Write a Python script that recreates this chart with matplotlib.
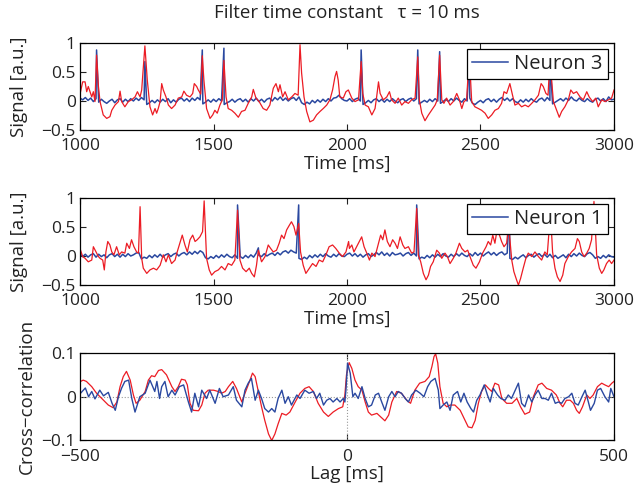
import numpy as np
import matplotlib
matplotlib.use("Agg")
import matplotlib.pyplot as plt

plt.rcParams['font.family'] = ['Open Sans', 'DejaVu Sans']

RED = '#ec1c24'
BLUE = '#2a48a0'

# ---- top panel: Neuron 3 (filtered red trace, (time ms, signal)) ----
red_top = [
    (1002, 0.16), (1010, 0.33), (1019, 0.33), (1025, 0.16), (1031, 0.25), (1044, 0.07),
    (1050, 0.16), (1056, -0.01), (1062, 0.79), (1069, 0.25), (1075, -0.01), (1087, -0.24),
    (1100, -0.30), (1112, -0.27), (1119, -0.16), (1131, -0.07), (1144, -0.01), (1150, 0.17),
    (1156, -0.01), (1168, -0.10), (1181, -0.01), (1193, 0.02), (1206, 0.07), (1215, 0.16),
    (1225, 0.07), (1231, 0.19), (1243, 0.95), (1252, 0.36), (1262, -0.10), (1272, -0.24),
    (1281, -0.13), (1287, -0.21), (1293, -0.13), (1300, -0.01), (1306, 0.30), (1312, 0.19),
    (1322, 0.07), (1331, -0.07), (1343, -0.13), (1356, -0.07), (1368, 0.05), (1381, 0.07),
    (1389, 0.17), (1399, 0.10), (1412, 0.07), (1422, 0.13), (1428, 0.30), (1437, 0.25),
    (1443, 0.19), (1452, 0.12), (1458, 0.78), (1464, 0.36), (1474, -0.13), (1487, -0.30),
    (1497, -0.24), (1505, -0.16), (1514, -0.21), (1524, -0.07), (1533, 0.02), (1539, 0.70),
    (1547, 0.07), (1555, -0.13), (1568, -0.16), (1580, -0.21), (1593, -0.28), (1605, -0.18),
    (1618, -0.16), (1630, -0.04), (1643, 0.07), (1649, 0.20), (1659, 0.05), (1671, -0.01),
    (1686, -0.13), (1699, -0.16), (1711, -0.07), (1724, 0.22), (1734, 0.30), (1743, 0.16),
    (1749, 0.28), (1759, 0.07), (1768, 0.16), (1780, 0.02), (1793, 0.07), (1805, 0.13),
    (1817, 0.10), (1824, 0.97), (1830, 0.48), (1839, 0.07), (1849, -0.18), (1861, -0.36),
    (1874, -0.33), (1886, -0.24), (1899, -0.18), (1911, -0.13), (1924, -0.07), (1936, 0.02),
    (1946, 0.19), (1955, 0.42), (1961, 0.51), (1967, 0.36), (1973, 0.07), (1986, 0.05),
    (1996, 0.16), (2005, 0.19), (2018, 0.05), (2030, -0.01), (2043, 0.02), (2053, 0.68),
    (2059, 0.13), (2068, -0.07), (2080, -0.10), (2093, -0.24), (2105, -0.13), (2111, 0.07),
    (2118, 0.33), (2124, 0.13), (2136, 0.02), (2149, 0.07), (2159, 0.16), (2167, 0.02),
    (2180, -0.04), (2192, 0.05), (2205, -0.07), (2217, -0.01), (2230, -0.04), (2242, 0.02),
    (2255, 0.05), (2265, 0.76), (2271, 0.02), (2280, -0.21), (2292, -0.34), (2305, -0.24),
    (2317, -0.16), (2330, -0.07), (2338, 0.02), (2347, 0.79), (2355, 0.02), (2363, -0.04),
    (2373, 0.05), (2386, -0.07), (2398, -0.01), (2411, 0.13), (2421, 0.02), (2430, -0.13),
    (2438, -0.01), (2448, 0.02), (2458, 0.80), (2467, -0.01), (2479, -0.10), (2492, -0.13),
    (2504, -0.16), (2517, -0.21), (2529, -0.30), (2542, -0.24), (2554, -0.16), (2567, -0.13),
    (2579, -0.04), (2588, 0.16), (2598, 0.13), (2610, 0.30), (2620, 0.10), (2629, -0.07),
    (2642, -0.04), (2654, -0.10), (2667, -0.07), (2679, -0.10), (2692, -0.04), (2704, 0.02),
    (2717, 0.10), (2727, 0.30), (2735, 0.25), (2745, 0.13), (2753, 0.10), (2760, 0.72),
    (2773, -0.01), (2785, -0.16), (2795, -0.28), (2804, -0.18), (2816, -0.10), (2829, 0.02),
    (2838, 0.19), (2848, 0.13), (2860, 0.16), (2873, 0.07), (2885, 0.02), (2898, 0.16),
    (2907, 0.07), (2920, -0.01), (2932, 0.05), (2941, -0.10), (2954, 0.02), (2966, -0.01),
    (2979, 0.02), (2991, 0.05), (3000, 0.19),
]

# blue trace sampled every 10 ms from 1000 to 3000 ms
blue_top_base = [
    0.05, 0.02, 0.06, 0.01, 0.05, -0.01, 0.04, -0.02, 0.03, -0.01,
    -0.04, 0.00, 0.03, -0.03, 0.02, 0.04, -0.02, 0.03, -0.01, 0.04,
    0.00, 0.05, 0.01, 0.06, 0.02, -0.06, -0.03, 0.01, -0.03, 0.02,
    -0.02, 0.03, -0.01, 0.04, -0.03, 0.02, -0.02, 0.03, 0.05, 0.00,
    0.04, -0.01, 0.05, 0.01, 0.06, 0.02, -0.05, -0.02, 0.02, -0.02,
    0.03, -0.01, 0.04, 0.00, -0.06, -0.03, -0.01, 0.03, -0.02, 0.02,
    0.04, -0.01, 0.03, -0.02, 0.04, 0.00, 0.05, -0.01, 0.03, -0.02,
    0.03, 0.05, 0.00, 0.06, 0.02, 0.07, 0.01, 0.05, 0.00, 0.04,
    0.06, 0.01, 0.07, -0.03, -0.06, -0.02, -0.05, 0.01, -0.03, 0.02,
    -0.02, 0.03, -0.01, 0.04, 0.00, 0.05, 0.06, 0.10, 0.04, 0.01,
    0.00, 0.04, -0.01, 0.03, 0.05, 0.00, -0.06, -0.03, 0.01, -0.03,
    0.02, 0.04, -0.01, 0.03, -0.02, 0.03, -0.01, 0.04, 0.00, -0.03,
    0.02, 0.04, -0.01, 0.03, 0.05, 0.00, 0.04, -0.05, -0.02, 0.01,
    -0.02, 0.03, -0.01, 0.04, 0.00, -0.04, -0.01, 0.03, -0.01, 0.04,
    0.00, 0.05, 0.01, -0.02, 0.04, 0.00, 0.05, -0.04, -0.06, -0.02,
    0.01, -0.03, 0.02, 0.04, -0.01, 0.03, -0.02, 0.03, 0.06, 0.01,
    0.05, 0.00, 0.04, -0.01, -0.03, 0.02, -0.02, 0.03, -0.01, 0.04,
    0.00, -0.02, 0.03, 0.05, 0.00, 0.06, 0.01, -0.05, -0.02, 0.01,
    0.04, 0.00, 0.05, 0.01, 0.07, 0.02, 0.00, 0.05, 0.01, -0.01,
    0.04, 0.00, -0.02, 0.03, 0.05, 0.00, 0.04, -0.01, 0.07, 0.02,
    0.03,
]
blue_top_spikes = [(1062, 0.88), (1243, 0.68), (1458, 0.88), (1539, 0.91), (2053, 0.88),
                   (2265, 0.88), (2347, 0.85), (2458, 0.80), (2760, 0.75)]

# ---- middle panel: Neuron 1 ----
red_mid = [
    (1002, 0.10), (1010, -0.01), (1019, -0.04), (1031, -0.10), (1044, -0.07), (1050, 0.16),
    (1060, 0.07), (1069, -0.01), (1075, -0.04), (1085, -0.07), (1091, -0.24), (1097, 0.07),
    (1104, 0.25), (1112, 0.19), (1119, 0.07), (1127, 0.02), (1137, 0.16), (1147, 0.02),
    (1156, 0.07), (1168, 0.05), (1175, 0.22), (1185, 0.13), (1193, 0.28), (1202, 0.16),
    (1212, 0.07), (1219, 0.05), (1225, 0.85), (1231, -0.04), (1237, -0.21), (1250, -0.30),
    (1262, -0.24), (1275, -0.21), (1287, -0.24), (1300, -0.16), (1312, 0.02), (1322, -0.10),
    (1331, 0.02), (1343, -0.13), (1356, -0.07), (1364, 0.07), (1374, 0.22), (1383, 0.36),
    (1393, 0.19), (1402, 0.07), (1412, 0.28), (1422, 0.36), (1431, 0.25), (1439, 0.28),
    (1449, 0.33), (1459, 0.42), (1465, 0.95), (1474, -0.04), (1484, -0.24), (1493, -0.33),
    (1505, -0.27), (1518, -0.24), (1530, -0.18), (1543, -0.24), (1555, -0.13), (1568, -0.16),
    (1580, -0.07), (1590, 0.79), (1599, -0.07), (1609, -0.21), (1622, -0.27), (1634, -0.21),
    (1643, -0.30), (1653, -0.36), (1661, -0.16), (1668, 0.10), (1680, -0.10), (1693, -0.01),
    (1705, 0.19), (1714, 0.13), (1724, 0.07), (1736, 0.10), (1746, 0.22), (1755, 0.36),
    (1764, 0.30), (1774, 0.45), (1784, 0.53), (1792, 0.59), (1801, 0.51), (1809, 0.36),
    (1819, 0.56), (1826, 0.07), (1836, -0.16), (1846, -0.30), (1859, -0.21), (1871, -0.13),
    (1884, -0.18), (1896, -0.07), (1909, -0.10), (1921, 0.02), (1933, 0.16), (1946, 0.19),
    (1958, 0.13), (1971, 0.05), (1983, -0.01), (1996, 0.07), (2006, 0.25), (2009, 0.13),
    (2018, 0.19), (2026, 0.07), (2036, 0.16), (2046, 0.25), (2055, 0.33), (2064, 0.16),
    (2074, 0.05), (2084, -0.07), (2093, 0.05), (2105, -0.01), (2118, 0.22), (2126, 0.36),
    (2134, 0.28), (2142, 0.45), (2151, 0.25), (2161, 0.16), (2171, 0.28), (2180, 0.22),
    (2189, 0.13), (2199, 0.33), (2209, 0.19), (2217, 0.13), (2230, 0.16), (2242, 0.05),
    (2251, 0.07), (2261, 0.82), (2267, 0.02), (2276, -0.10), (2286, -0.30), (2296, -0.41),
    (2305, -0.33), (2313, -0.18), (2323, -0.10), (2336, 0.10), (2346, 0.05), (2355, -0.04),
    (2367, 0.05), (2376, -0.01), (2386, -0.13), (2398, -0.04), (2408, 0.05), (2421, 0.22),
    (2430, 0.13), (2442, 0.07), (2452, 0.10), (2463, -0.04), (2473, -0.16), (2483, -0.21),
    (2496, -0.10), (2508, 0.05), (2521, 0.16), (2529, 0.25), (2538, 0.19), (2546, 0.36),
    (2554, 0.22), (2563, 0.48), (2571, 0.36), (2579, 0.25), (2588, 0.16), (2598, 0.22),
    (2605, 0.55), (2617, -0.07), (2625, -0.27), (2635, -0.41), (2642, -0.50), (2650, -0.39),
    (2660, -0.21), (2670, -0.04), (2679, 0.05), (2692, -0.01), (2704, 0.07), (2717, -0.01),
    (2729, -0.07), (2741, 0.07), (2750, 0.02), (2762, 0.75), (2770, 0.07), (2779, -0.21),
    (2788, -0.36), (2798, -0.44), (2808, -0.33), (2816, -0.13), (2829, -0.01), (2841, 0.07),
    (2854, 0.13), (2863, 0.30), (2870, 0.25), (2879, 0.07), (2888, -0.01), (2898, 0.05),
    (2907, 0.13), (2916, 0.28), (2925, 0.94), (2935, 0.02), (2945, -0.21), (2954, -0.30),
    (2962, -0.24), (2972, -0.13), (2982, -0.07), (2991, -0.13), (3000, -0.07),
]

blue_mid_base = [
    0.04, -0.01, 0.03, -0.02, 0.02, 0.04, -0.02, 0.03, -0.01, 0.02,
    -0.03, 0.02, 0.04, -0.01, 0.03, -0.02, 0.03, -0.01, 0.04, 0.00,
    0.02, 0.05, 0.06, -0.05, -0.02, -0.04, 0.01, -0.03, 0.02, -0.02,
    0.03, -0.02, 0.02, 0.04, -0.01, 0.03, 0.05, 0.00, 0.04, 0.06,
    0.02, 0.07, 0.03, 0.08, 0.04, 0.09, 0.06, -0.03, -0.05, -0.01,
    -0.04, 0.01, -0.03, 0.02, -0.02, 0.03, -0.01, -0.03, 0.02, -0.04,
    -0.01, -0.04, 0.01, -0.03, 0.02, -0.02, 0.05, 0.01, -0.01, 0.04,
    0.00, 0.03, 0.05, 0.01, 0.06, 0.02, 0.07, 0.09, 0.05, 0.10,
    0.07, 0.05, -0.04, -0.06, -0.02, -0.05, 0.01, -0.03, 0.02, -0.02,
    0.03, -0.01, 0.04, 0.00, -0.02, 0.03, -0.01, 0.04, 0.00, -0.01,
    0.03, 0.05, 0.00, 0.04, -0.01, 0.03, -0.02, 0.02, 0.04, -0.01,
    0.02, 0.06, 0.02, 0.07, 0.01, 0.05, 0.00, 0.06, 0.02, 0.03,
    0.05, 0.00, 0.04, 0.06, 0.01, 0.05, 0.00, -0.05, -0.02, -0.04,
    0.01, -0.03, 0.02, -0.02, 0.03, -0.01, 0.04, 0.00, -0.02, 0.03,
    -0.01, 0.04, 0.00, 0.05, 0.01, -0.01, 0.04, 0.00, 0.06, 0.01,
    0.05, 0.00, 0.04, 0.07, 0.02, 0.06, 0.01, 0.05, 0.07, 0.02,
    0.05, -0.04, -0.06, -0.02, -0.05, -0.01, 0.02, -0.03, 0.01, 0.03,
    -0.02, 0.02, 0.04, -0.01, 0.03, -0.02, 0.03, -0.03, 0.01, -0.04,
    -0.01, 0.02, -0.03, 0.03, -0.01, 0.04, 0.00, 0.05, 0.01, -0.01,
    0.04, 0.06, 0.02, -0.04, -0.01, -0.04, 0.01, -0.03, 0.02, -0.01,
    -0.02,
]
blue_mid_spikes = [(1590, 0.88), (1668, 0.14), (1819, 0.88), (2261, 0.88), (2608, 0.85)]

# ---- bottom panel: cross-correlation (lag ms, value) ----
cc_red = [
    (-499, 0.035), (-494, 0.038), (-488, 0.035), (-478, 0.023), (-469, 0.008), (-456, -0.008),
    (-447, -0.019), (-438, -0.025), (-431, -0.012), (-425, 0.023), (-419, 0.046), (-413, 0.058),
    (-406, 0.038), (-400, 0.004), (-395, -0.015), (-388, -0.008), (-378, 0.012), (-372, 0.038),
    (-366, 0.048), (-360, 0.046), (-353, 0.060), (-347, 0.062), (-338, 0.050), (-328, 0.023),
    (-322, 0.012), (-316, 0.023), (-310, 0.040), (-303, 0.038), (-299, 0.027), (-294, -0.015),
    (-288, -0.031), (-278, -0.032), (-272, -0.019), (-266, 0.008), (-260, 0.015), (-250, 0.015),
    (-241, 0.012), (-235, 0.008), (-228, 0.012), (-222, 0.023), (-214, 0.035), (-207, 0.019),
    (-197, -0.012), (-191, 0.008), (-185, 0.027), (-177, 0.054), (-172, 0.046), (-166, 0.012),
    (-160, -0.023), (-154, -0.054), (-147, -0.085), (-141, -0.100), (-135, -0.085), (-129, -0.062),
    (-122, -0.038), (-114, -0.042), (-107, -0.035), (-97, -0.012), (-88, 0.008), (-79, 0.019),
    (-71, 0.023), (-63, 0.012), (-54, -0.015), (-44, -0.035), (-35, -0.045), (-26, -0.035),
    (-16, -0.027), (-8, -0.023), (-4, 0.004), (-1, 0.050), (4, 0.078), (9, 0.065),
    (15, 0.038), (21, 0.023), (28, 0.015), (34, -0.012), (40, -0.035), (46, -0.042),
    (56, -0.038), (63, -0.046), (71, -0.055), (78, -0.042), (84, -0.012), (93, 0.012),
    (102, 0.008), (112, -0.008), (119, -0.015), (127, 0.015), (136, 0.031), (146, 0.035),
    (154, 0.046), (159, 0.069), (163, 0.092), (166, 0.098), (170, 0.077), (174, 0.023),
    (180, -0.015), (187, -0.023), (193, -0.019), (202, -0.019), (212, -0.031), (221, -0.054),
    (227, -0.069), (234, -0.071), (240, -0.054), (246, -0.015), (252, 0.012), (259, 0.027),
    (265, 0.019), (271, 0.012), (277, 0.031), (284, 0.027), (290, -0.004), (299, -0.015),
    (309, -0.015), (318, -0.004), (325, -0.023), (333, -0.040), (342, -0.035), (349, 0.000),
    (358, 0.027), (365, 0.031), (374, 0.019), (383, 0.015), (392, 0.004), (399, -0.015),
    (404, -0.023), (411, -0.008), (418, -0.008), (424, -0.015), (430, -0.031), (435, -0.038),
    (441, -0.023), (449, 0.004), (455, -0.004), (461, 0.004), (469, 0.023), (477, 0.031),
    (483, 0.027), (490, 0.023), (496, 0.031), (500, 0.035),
]

cc_blue = [
    (-499, 0.008), (-490, 0.020), (-484, 0.000), (-478, 0.012), (-472, -0.005), (-463, 0.015),
    (-456, 0.002), (-447, 0.010), (-440, -0.015), (-434, -0.031), (-428, 0.000), (-422, 0.020),
    (-416, 0.035), (-409, 0.038), (-403, -0.004), (-397, -0.035), (-388, 0.000), (-378, 0.008),
    (-369, 0.038), (-360, 0.012), (-356, 0.035), (-351, -0.004), (-347, 0.023), (-341, 0.035),
    (-335, 0.000), (-328, 0.015), (-322, 0.004), (-314, 0.023), (-306, 0.027), (-297, -0.012),
    (-291, -0.035), (-285, 0.008), (-278, -0.023), (-272, 0.015), (-263, -0.004), (-257, 0.015),
    (-247, -0.015), (-239, 0.019), (-232, 0.000), (-222, 0.004), (-213, 0.023), (-207, -0.008),
    (-197, -0.023), (-191, 0.015), (-185, 0.031), (-179, 0.042), (-172, -0.008), (-166, 0.015),
    (-160, -0.004), (-154, -0.027), (-147, -0.035), (-141, -0.027), (-135, -0.035), (-129, -0.004),
    (-122, 0.015), (-116, -0.015), (-110, 0.000), (-104, -0.019), (-94, 0.004), (-88, -0.004),
    (-79, 0.015), (-71, 0.008), (-63, 0.012), (-57, -0.004), (-51, 0.008), (-44, -0.019),
    (-38, -0.008), (-32, -0.004), (-26, -0.012), (-19, -0.004), (-13, -0.012), (-7, -0.004),
    (-4, -0.012), (-2, 0.015), (1, 0.077), (6, 0.054), (11, 0.000), (15, 0.008),
    (21, -0.004), (28, 0.023), (34, -0.004), (40, -0.023), (46, -0.019), (53, 0.004),
    (59, 0.008), (65, -0.012), (71, -0.031), (78, 0.000), (84, 0.012), (90, 0.000),
    (96, 0.012), (102, 0.008), (109, -0.004), (115, -0.012), (121, 0.004), (129, 0.015),
    (137, 0.008), (144, 0.000), (151, 0.023), (157, 0.035), (165, 0.042), (171, 0.015),
    (174, -0.027), (180, -0.019), (187, -0.012), (193, -0.031), (199, 0.004), (207, 0.012),
    (213, -0.012), (219, 0.008), (225, -0.012), (232, -0.027), (237, -0.035), (243, -0.008),
    (249, 0.004), (257, 0.027), (263, 0.004), (268, -0.012), (274, 0.019), (282, 0.004),
    (288, -0.004), (296, -0.008), (302, 0.004), (308, -0.004), (315, 0.015), (321, 0.031),
    (327, -0.015), (333, -0.023), (340, 0.004), (346, -0.012), (352, 0.004), (358, 0.015),
    (365, -0.004), (371, -0.004), (377, -0.008), (383, 0.008), (390, -0.015), (396, -0.012),
    (402, -0.015), (408, -0.004), (415, 0.000), (421, 0.008), (427, -0.015), (433, -0.019),
    (440, 0.000), (446, 0.015), (452, -0.012), (456, -0.031), (463, -0.015), (469, 0.015),
    (475, 0.019), (483, 0.000), (490, -0.012), (494, 0.019), (500, 0.000),
]

time_ticks = [1000, 1500, 2000, 2500, 3000]
sig_ticks = [-0.5, 0, 0.5, 1]
sig_labels = ['\u22120.5', '0', '0.5', '1']
lag_ticks = [-500, 0, 500]
lag_labels = ['\u2212500', '0', '500']
cc_ticks = [-0.1, 0, 0.1]
cc_labels = ['\u22120.1', '0', '0.1']

TXT = '#222222'


def merge_blue(base, spikes):
    t = np.arange(1000, 3001, 10)
    st, sv = np.array(spikes).T
    tt = np.concatenate([t, st])
    vv = np.concatenate([np.array(base), sv])
    order = np.argsort(tt, kind='stable')
    return tt[order], vv[order]


def style_axes(ax):
    ax.tick_params(direction='in', top=True, right=True, length=4, width=0.8,
                   labelsize=12.5, colors=TXT)
    ax.tick_params(axis='x', pad=6)
    ax.tick_params(axis='y', pad=3)
    for s in ax.spines.values():
        s.set_linewidth(0.9)
        s.set_color('black')


fig = plt.figure(figsize=(6.36, 4.93), dpi=100)
ax1 = fig.add_axes([0.1258, 0.7363, 0.8396, 0.1765])
ax2 = fig.add_axes([0.1258, 0.4219, 0.8396, 0.1765])
ax3 = fig.add_axes([0.1258, 0.1065, 0.8396, 0.1775])

for ax, red, base, spikes, name in [(ax1, red_top, blue_top_base, blue_top_spikes, 'Neuron 3'),
                                    (ax2, red_mid, blue_mid_base, blue_mid_spikes, 'Neuron 1')]:
    bt, bv = merge_blue(base, spikes)
    rt, rv = np.array(red).T
    ax.plot(bt, bv, color=BLUE, lw=1.1, label=name)
    ax.plot(rt, rv, color=RED, lw=0.9)
    ax.set_xlim(1000, 3000)
    ax.set_ylim(-0.5, 1)
    ax.set_xticks(time_ticks)
    ax.set_yticks(sig_ticks)
    ax.set_yticklabels(sig_labels)
    ax.set_xlabel('Time [ms]', fontsize=13.5, labelpad=0, color=TXT)
    ax.set_ylabel('Signal [a.u.]', fontsize=13.5, labelpad=10, color=TXT)
    style_axes(ax)
    leg = ax.legend(loc='upper right', fontsize=14.5, fancybox=False, framealpha=1,
                    edgecolor='black', borderpad=0.25, borderaxespad=0.3,
                    handlelength=1.8, handletextpad=0.3)
    leg.get_frame().set_linewidth(0.9)
    for txt in leg.get_texts():
        txt.set_color(TXT)

lr, vr = np.array(cc_red).T
lb, vb = np.array(cc_blue).T
ax3.axhline(0, color='#999999', ls=':', lw=0.8)
ax3.axvline(0, color='#999999', ls=':', lw=0.8)
ax3.plot(lr, vr, color=RED, lw=0.9)
ax3.plot(lb, vb, color=BLUE, lw=1.0)
ax3.set_xlim(-500, 500)
ax3.set_ylim(-0.1, 0.1)
ax3.set_xticks(lag_ticks)
ax3.set_xticklabels(lag_labels)
ax3.set_yticks(cc_ticks)
ax3.set_yticklabels(cc_labels)
ax3.set_xlabel('Lag [ms]', fontsize=13.5, labelpad=0, color=TXT)
ax3.set_ylabel('Cross\u2212correlation', fontsize=13.5, labelpad=4, color=TXT)
style_axes(ax3)

fig.text(0.5458, 0.974, 'Filter time constant   \u03c4 = 10 ms', ha='center', va='center',
         fontsize=13.5, color=TXT)

fig.savefig('out.png', dpi=100)
